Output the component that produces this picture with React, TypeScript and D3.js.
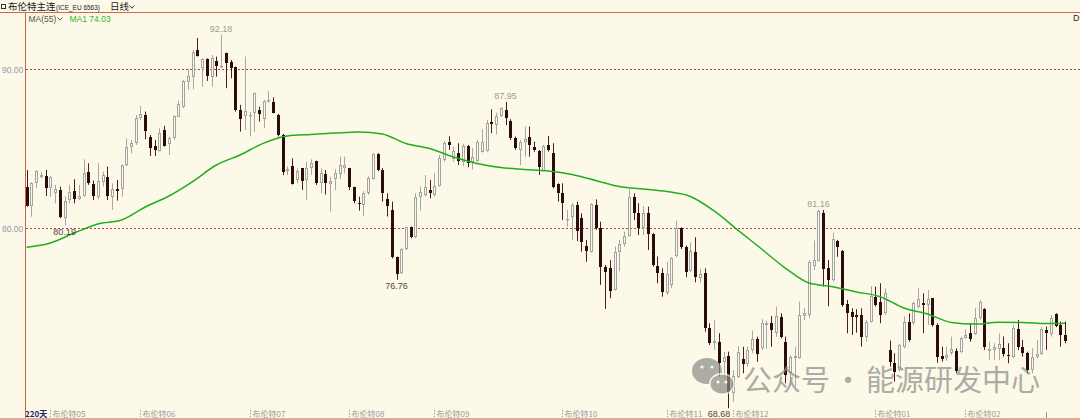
// Brent continuous daily candles with MA(55)
import React, { useEffect, useRef } from 'react';
import * as d3 from 'd3';

// [open, high, low, close] per trading day
const ohlc: [number, number, number, number][] = [
  [82.62, 83.67, 81.36, 81.43], [81.43, 82.9, 80.73, 82.83], [82.83, 83.65, 82.52, 83.61], [83.25, 83.56, 83.14, 83.35],
  [83.29, 83.67, 82.03, 82.56], [82.52, 83.3, 81.99, 83.25], [82.24, 82.73, 81.57, 82.45], [82.41, 82.62, 80.63, 80.73],
  [80.63, 81.99, 80.19, 81.74], [81.78, 82.73, 81.57, 82.31], [82.37, 83.08, 81.57, 81.84], [81.82, 82.73, 81.78, 82.05],
  [82.05, 84.34, 81.99, 83.5], [83.52, 84.09, 82.73, 82.83], [82.79, 83.0, 81.78, 82.03], [81.99, 84.09, 81.82, 82.98],
  [82.94, 83.56, 82.62, 83.35], [83.21, 83.88, 81.78, 82.05], [81.99, 82.83, 81.15, 82.45], [82.45, 83.04, 81.74, 82.37],
  [82.45, 84.0, 81.99, 83.98], [83.98, 85.66, 83.9, 85.14], [85.14, 85.56, 84.72, 85.35], [85.35, 87.13, 85.24, 86.92],
  [86.92, 87.69, 86.81, 87.19], [87.13, 87.34, 85.6, 86.14], [85.72, 85.87, 84.55, 85.03], [85.18, 85.56, 84.55, 84.93],
  [84.86, 86.29, 84.82, 86.02], [86.18, 86.44, 85.14, 85.18], [85.28, 85.77, 84.61, 85.7], [85.66, 87.1, 85.56, 87.06],
  [87.02, 88.03, 86.98, 87.82], [87.65, 89.33, 87.55, 89.27], [89.22, 90.02, 88.7, 89.58], [89.54, 91.22, 88.74, 91.11],
  [91.22, 91.97, 90.8, 90.86], [90.06, 90.69, 88.91, 90.63], [90.63, 90.69, 89.27, 89.6], [89.54, 90.9, 88.91, 90.69],
  [90.55, 90.8, 89.54, 90.21], [90.17, 92.18, 90.1, 90.21], [91.01, 91.05, 88.81, 90.42], [90.48, 90.59, 89.43, 90.06],
  [90.13, 90.17, 87.34, 87.44], [87.44, 87.76, 86.08, 86.88], [87.06, 90.8, 86.18, 87.4], [87.06, 87.34, 85.77, 87.13],
  [87.23, 88.53, 86.08, 88.49], [87.44, 87.65, 86.71, 87.19], [86.88, 88.07, 86.29, 88.03], [87.99, 88.64, 87.9, 88.07],
  [87.97, 88.24, 87.23, 87.27], [87.13, 87.19, 85.77, 85.87], [85.87, 85.93, 83.35, 83.56], [83.61, 83.88, 83.35, 83.71],
  [83.92, 84.4, 82.75, 82.79], [83.04, 83.77, 82.83, 83.63], [83.77, 83.8, 82.41, 83.0], [83.04, 84.19, 81.78, 83.77],
  [83.77, 84.34, 83.35, 84.13], [84.23, 84.25, 82.73, 82.83], [82.83, 83.77, 82.22, 83.46], [83.42, 83.67, 82.12, 82.83],
  [82.79, 83.25, 81.05, 83.0], [83.08, 83.71, 82.41, 83.46], [83.42, 84.51, 83.08, 83.99], [83.78, 84.51, 83.46, 83.99],
  [83.78, 83.8, 82.41, 82.58], [82.58, 82.62, 81.57, 81.74], [81.61, 81.99, 81.11, 81.53], [81.45, 82.33, 80.78, 82.22],
  [82.22, 83.27, 82.1, 83.16], [83.12, 84.74, 83.06, 84.68], [84.7, 84.72, 83.59, 83.69], [83.69, 83.8, 81.68, 82.22],
  [81.84, 82.2, 80.74, 81.4], [81.15, 81.68, 78.1, 78.17], [78.17, 78.22, 76.76, 77.13], [77.17, 78.74, 77.13, 78.7],
  [78.68, 80.11, 78.64, 80.06], [80.06, 80.11, 79.37, 79.43], [79.43, 82.2, 79.37, 81.95], [81.99, 82.62, 81.11, 82.31],
  [82.1, 83.35, 82.0, 82.58], [82.41, 83.04, 81.89, 82.2], [82.1, 83.46, 82.0, 82.66], [82.66, 84.61, 82.62, 84.4],
  [84.3, 85.49, 84.19, 85.35], [85.41, 85.79, 84.93, 85.24], [84.34, 85.14, 84.19, 84.88], [84.76, 85.35, 83.98, 84.23],
  [84.19, 85.31, 83.92, 85.2], [85.2, 85.24, 83.84, 84.13], [84.19, 85.03, 83.71, 84.51], [84.23, 85.56, 84.19, 85.45],
  [84.82, 86.23, 84.76, 85.45], [84.88, 86.81, 84.82, 86.65], [86.71, 87.48, 85.98, 86.56], [86.5, 87.27, 85.91, 87.06],
  [87.06, 87.61, 87.0, 87.55], [87.44, 87.95, 86.48, 86.92], [86.77, 86.86, 85.56, 85.66], [85.66, 85.77, 84.93, 85.03],
  [84.93, 85.56, 83.98, 85.45], [85.45, 86.4, 84.51, 85.6], [85.72, 86.4, 84.51, 85.24], [85.14, 85.45, 84.82, 84.93],
  [84.86, 84.93, 83.35, 83.84], [83.63, 85.24, 83.57, 85.2], [85.24, 85.81, 84.82, 84.93], [84.72, 85.35, 82.52, 82.58],
  [82.79, 82.83, 81.68, 82.24], [82.24, 82.83, 80.52, 81.61], [80.53, 81.15, 80.1, 80.57], [80.69, 81.6, 79.28, 81.47],
  [81.47, 81.68, 79.2, 79.82], [80.63, 80.94, 78.53, 79.16], [78.89, 79.26, 77.9, 78.6], [78.53, 81.57, 78.47, 81.53],
  [81.47, 81.82, 79.9, 80.0], [80.0, 80.42, 76.44, 77.55], [77.59, 77.69, 74.93, 77.27], [77.48, 78.0, 75.6, 76.08],
  [76.12, 78.85, 76.06, 78.53], [78.53, 79.26, 77.3, 79.01], [79.01, 79.79, 78.85, 79.52], [79.52, 82.45, 79.48, 81.99],
  [81.95, 82.2, 80.52, 80.99], [80.99, 81.57, 79.58, 80.0], [80.0, 81.4, 79.58, 80.94], [80.94, 81.36, 78.64, 79.62],
  [79.62, 79.69, 77.59, 77.69], [77.65, 78.22, 76.54, 77.17], [77.17, 77.48, 75.7, 76.02], [75.95, 77.9, 75.81, 77.13],
  [76.44, 78.18, 76.23, 78.11], [78.24, 80.48, 78.18, 80.0], [80.0, 80.06, 78.7, 78.81], [78.81, 78.91, 76.92, 77.28],
  [77.34, 79.12, 77.24, 78.6], [78.53, 79.44, 76.6, 76.92], [76.86, 77.45, 76.6, 77.13], [77.17, 77.48, 73.5, 73.71],
  [73.71, 74.03, 72.66, 72.77], [72.77, 74.24, 72.35, 72.94], [72.83, 73.4, 70.67, 71.51], [71.61, 72.24, 70.57, 71.92],
  [71.97, 72.24, 68.68, 69.72], [69.62, 71.09, 69.09, 70.71], [70.63, 72.6, 70.58, 72.24], [71.76, 72.55, 70.88, 71.47],
  [71.47, 72.55, 71.3, 72.35], [72.35, 73.56, 72.14, 73.02], [73.02, 73.18, 71.61, 72.1], [72.45, 74.28, 72.35, 74.03],
  [73.92, 74.19, 72.39, 74.03], [74.03, 74.48, 72.55, 73.61], [73.4, 75.07, 73.18, 74.48], [74.44, 74.65, 73.08, 73.14],
  [72.87, 73.18, 70.25, 70.77], [70.88, 72.03, 70.14, 71.92], [71.82, 72.55, 70.04, 71.97], [71.82, 75.38, 71.8, 74.55],
  [74.49, 75.0, 74.23, 74.65], [74.55, 77.99, 74.34, 77.9], [77.61, 79.23, 77.38, 78.03], [77.97, 81.16, 77.91, 81.11],
  [80.98, 81.15, 76.33, 77.42], [77.48, 78.0, 75.1, 76.75], [76.75, 79.73, 76.64, 79.31], [79.17, 79.27, 78.21, 78.81],
  [78.57, 78.64, 75.07, 75.17], [75.22, 75.49, 73.4, 74.69], [74.72, 74.97, 73.29, 74.44], [74.53, 74.91, 73.44, 74.45],
  [74.55, 74.97, 72.56, 73.19], [73.19, 74.24, 72.87, 74.13], [74.13, 76.37, 74.07, 75.74], [75.7, 76.33, 75.07, 75.18],
  [75.39, 76.54, 74.03, 74.55], [74.65, 76.23, 74.55, 75.91], [72.35, 72.94, 71.3, 71.62], [71.55, 72.14, 70.36, 70.99],
  [71.09, 72.73, 70.99, 72.66], [72.56, 74.45, 72.45, 74.13], [74.13, 74.65, 72.87, 72.98], [74.03, 75.39, 73.92, 75.28],
  [75.03, 76.23, 74.97, 75.54], [75.33, 75.91, 73.4, 75.18], [75.18, 76.12, 73.92, 75.54], [75.6, 75.62, 73.82, 73.92],
  [73.92, 74.03, 71.55, 71.89], [71.97, 72.56, 71.62, 71.76], [71.82, 72.56, 71.68, 72.03], [72.14, 73.19, 72.03, 72.39],
  [72.29, 72.45, 70.88, 71.03], [72.24, 73.19, 72.14, 73.08], [73.08, 73.65, 73.05, 73.29], [73.4, 74.03, 72.87, 73.04],
  [73.35, 74.97, 73.29, 74.38], [74.34, 75.49, 74.24, 75.39], [74.91, 74.97, 72.35, 72.52], [72.3, 72.87, 71.72, 72.39],
  [72.35, 72.77, 71.72, 72.56], [72.39, 73.4, 71.72, 72.73], [72.45, 73.19, 71.93, 72.1], [72.03, 72.77, 71.51, 71.97],
  [71.93, 73.92, 71.82, 73.71], [73.65, 74.23, 72.35, 72.52], [72.56, 72.98, 71.93, 72.14], [72.14, 72.24, 70.88, 71.09],
  [71.09, 72.45, 70.88, 71.93], [71.93, 72.98, 71.82, 72.1], [72.1, 73.78, 72.03, 73.65], [73.61, 73.82, 72.35, 73.4],
  [73.35, 74.55, 73.19, 74.34], [74.61, 74.65, 73.78, 73.86], [73.92, 74.13, 72.56, 73.29], [73.29, 74.13, 72.77, 72.94],
];

// MA(55) line read at every 5th candle
const maIdx = [0, 5, 10, 15, 20, 25, 30, 35, 40, 45, 50, 55, 60, 65, 70, 75, 80, 85, 90, 95, 100, 105, 110,
  115, 120, 125, 130, 135, 140, 145, 150, 155, 160, 165, 170, 175, 180, 185, 190, 195, 200, 205, 210, 215, 219];
const maVal = [78.81, 79.08, 79.7, 80.27, 80.52, 81.34, 82.03, 82.94, 83.98, 84.61, 85.36, 85.81, 85.9, 85.99,
  86.06, 85.93, 85.33, 85.02, 84.48, 84.08, 83.82, 83.7, 83.6, 83.38, 83.01, 82.63, 82.47, 82.31, 82.0, 81.09,
  79.89, 78.7, 77.5, 76.56, 76.33, 76.0, 75.7, 74.99, 74.61, 74.08, 73.98, 74.09, 74.08, 74.01, 74.03];

const monthIdx = [5, 24, 47, 68, 86, 113, 135, 149, 179, 198];
const monthLabels = ['布伦特05', '布伦特06', '布伦特07', '布伦特08', '布伦特09', '布伦特10', '布伦特11', '布伦特12', '布伦特01', '布伦特02'];
const lastTickIdx = 215;

const gridLevels = [90, 80];
const highMarks = [41, 101, 167];
const lowMarks = [8, 78, 148];

const W = 1080;
const H = 420;
const BG = '#fdf9e8';

const App: React.FC = () => {
  const svgRef = useRef<SVGSVGElement>(null);

  useEffect(() => {
    const svg = d3.select(svgRef.current);
    svg.selectAll('*').remove();

    svg.append('rect').attr('width', W).attr('height', H).attr('fill', BG);

    const x = d3.scaleLinear().domain([0, ohlc.length - 1]).range([26.7, 1065]);
    const y = d3.scaleLinear().domain([80, 90]).range([228.3, 69.3]);
    const latin = '"Liberation Sans", Arial, sans-serif';
    const cjk = '"Noto Sans CJK SC", sans-serif';

    // dashed price grid
    gridLevels.forEach((lv) => {
      const gy = Math.round(y(lv)) + 0.5;
      svg.append('line')
        .attr('x1', 26).attr('x2', W)
        .attr('y1', gy).attr('y2', gy)
        .attr('stroke', '#b8403a')
        .attr('stroke-width', 1)
        .attr('stroke-dasharray', '2,2');
      svg.append('text')
        .attr('x', 2).attr('y', gy + 3)
        .attr('fill', '#8d9ab0')
        .style('font-family', latin)
        .style('font-size', '8.5px')
        .text(lv.toFixed(2));
    });

    // candles
    ohlc.forEach(([o, h, l, c], i) => {
      const cx = Math.round(x(i));
      const up = c >= o;
      const top = Math.round(y(Math.max(o, c)));
      const bot = Math.round(y(Math.min(o, c)));
      svg.append('line')
        .attr('x1', cx + 0.5).attr('x2', cx + 0.5)
        .attr('y1', y(h)).attr('y2', y(l))
        .attr('stroke', up ? '#a6a6a6' : '#4a1c1c')
        .attr('stroke-width', 1);
      if (up) {
        svg.append('rect')
          .attr('x', cx - 0.5).attr('y', top + 0.5)
          .attr('width', 2).attr('height', Math.max(bot - top - 1, 0.5))
          .attr('fill', BG)
          .attr('stroke', '#a3a3a3')
          .attr('stroke-width', 1);
      } else {
        svg.append('rect')
          .attr('x', cx - 1).attr('y', top)
          .attr('width', 3).attr('height', Math.max(bot - top, 1))
          .attr('fill', '#2b0b0b');
      }
    });

    // MA(55)
    const maLine = d3.line<number>()
      .x((_, k) => x(maIdx[k]))
      .y((d) => y(d))
      .curve(d3.curveMonotoneX);
    svg.append('path')
      .datum(maVal)
      .attr('d', maLine)
      .attr('fill', 'none')
      .attr('stroke', '#1fae1f')
      .attr('stroke-width', 1.5);

    // extreme labels
    highMarks.forEach((i) => {
      svg.append('text')
        .attr('x', x(i)).attr('y', y(ohlc[i][1]) - 3)
        .attr('text-anchor', 'middle')
        .attr('fill', '#9a9a9a')
        .style('font-family', latin)
        .style('font-size', '9px')
        .text(ohlc[i][1].toFixed(2));
    });
    lowMarks.forEach((i) => {
      const ly = y(ohlc[i][2]) + 9.5;
      const atAxis = ly > 410;
      svg.append('text')
        .attr('x', atAxis ? x(i) + 2 : x(i))
        .attr('y', Math.min(ly, 416.5))
        .attr('text-anchor', atAxis ? 'end' : 'middle')
        .attr('fill', '#544444')
        .style('font-family', latin)
        .style('font-size', '9px')
        .text(ohlc[i][2].toFixed(2));
    });

    // month axis
    monthIdx.forEach((mi, k) => {
      const tx = Math.round(x(mi)) + 0.5;
      svg.append('line')
        .attr('x1', tx).attr('x2', tx)
        .attr('y1', 410).attr('y2', 417)
        .attr('stroke', '#9a9a9a')
        .attr('stroke-dasharray', '1.5,1.5');
      svg.append('text')
        .attr('x', tx + 2).attr('y', 416.5)
        .attr('fill', '#999999')
        .style('font-family', cjk)
        .style('font-size', '8px')
        .text(monthLabels[k]);
    });
    const lx = Math.round(x(lastTickIdx)) + 0.5;
    svg.append('line')
      .attr('x1', lx).attr('x2', lx)
      .attr('y1', 412).attr('y2', 418)
      .attr('stroke', '#9a9a9a');
    svg.append('text')
      .attr('x', 25).attr('y', 416.5)
      .attr('fill', '#1e1e5c')
      .style('font-family', cjk)
      .style('font-size', '8px')
      .style('font-weight', '700')
      .text(`${ohlc.length}天`);

    // frame
    svg.append('line')
      .attr('x1', 0).attr('x2', W).attr('y1', 12.5).attr('y2', 12.5)
      .attr('stroke', '#e0604c');
    svg.append('line')
      .attr('x1', 25.5).attr('x2', 25.5).attr('y1', 12).attr('y2', 420)
      .attr('stroke', '#d0604e');
    svg.append('rect')
      .attr('x', 0).attr('y', 418).attr('width', W).attr('height', 2)
      .attr('fill', '#eaa89c');

    // header
    svg.append('rect')
      .attr('x', 1.5).attr('y', 4.5).attr('width', 4).attr('height', 4)
      .attr('fill', 'none').attr('stroke', '#333');
    svg.append('text')
      .attr('x', 8).attr('y', 9.5)
      .attr('fill', '#222')
      .style('font-family', cjk)
      .style('font-size', '9.5px')
      .text('布伦特主连');
    svg.append('text')
      .attr('x', 56).attr('y', 9.5)
      .attr('fill', '#222')
      .attr('textLength', 44)
      .attr('lengthAdjust', 'spacingAndGlyphs')
      .style('font-family', latin)
      .style('font-size', '7px')
      .text('(ICE_EU 6563)');
    svg.append('text')
      .attr('x', 110).attr('y', 9.5)
      .attr('fill', '#222')
      .style('font-family', cjk)
      .style('font-size', '9.5px')
      .text('日线');
    svg.append('path')
      .attr('d', 'M129.5,5.5 L131.8,8.2 L134.2,5.5')
      .attr('fill', 'none').attr('stroke', '#333').attr('stroke-width', 1);

    svg.append('text')
      .attr('x', 28.5).attr('y', 21.5)
      .attr('fill', '#555')
      .style('font-family', latin)
      .style('font-size', '8.5px')
      .text('MA(55)');
    svg.append('path')
      .attr('d', 'M57.5,17.5 L60,20 L62.5,17.5')
      .attr('fill', 'none').attr('stroke', '#555').attr('stroke-width', 1);
    svg.append('text')
      .attr('x', 69.5).attr('y', 21.5)
      .attr('fill', '#2fb52f')
      .style('font-family', latin)
      .style('font-size', '8.5px')
      .text(`MA1 ${maVal[maVal.length - 1].toFixed(2)}`);
    svg.append('text')
      .attr('x', 1073).attr('y', 20.5)
      .attr('fill', '#2a2a2a')
      .style('font-family', latin)
      .style('font-size', '9px')
      .text('D');

    // watermark
    const wm = svg.append('g').attr('opacity', 0.72);
    wm.append('ellipse').attr('cx', 707).attr('cy', 371).attr('rx', 15).attr('ry', 13).attr('fill', '#8e8e8a');
    wm.append('ellipse').attr('cx', 722).attr('cy', 384).attr('rx', 13).attr('ry', 11).attr('fill', BG);
    wm.append('ellipse').attr('cx', 722).attr('cy', 384).attr('rx', 11.5).attr('ry', 9.5).attr('fill', '#8e8e8a');
    [[702, 367], [712, 367], [718, 382], [726, 382]].forEach(([ex, ey]) => {
      wm.append('circle').attr('cx', ex).attr('cy', ey).attr('r', 1.6).attr('fill', BG);
    });
    wm.append('text')
      .attr('x', 743).attr('y', 391)
      .attr('fill', '#8e8e8a')
      .style('font-family', cjk)
      .style('font-size', '29px')
      .text('公众号');
    wm.append('text')
      .attr('x', 848).attr('y', 391)
      .attr('text-anchor', 'middle')
      .attr('fill', '#8e8e8a')
      .style('font-family', cjk)
      .style('font-size', '29px')
      .text('·');
    wm.append('text')
      .attr('x', 866).attr('y', 391)
      .attr('fill', '#8e8e8a')
      .style('font-family', cjk)
      .style('font-size', '29px')
      .text('能源研发中心');
  }, []);

  return (
    <div style={{ position: 'fixed', left: 0, top: 0, width: W, height: H }}>
      <svg ref={svgRef} width={W} height={H} style={{ display: 'block' }} />
    </div>
  );
};

export default App;
